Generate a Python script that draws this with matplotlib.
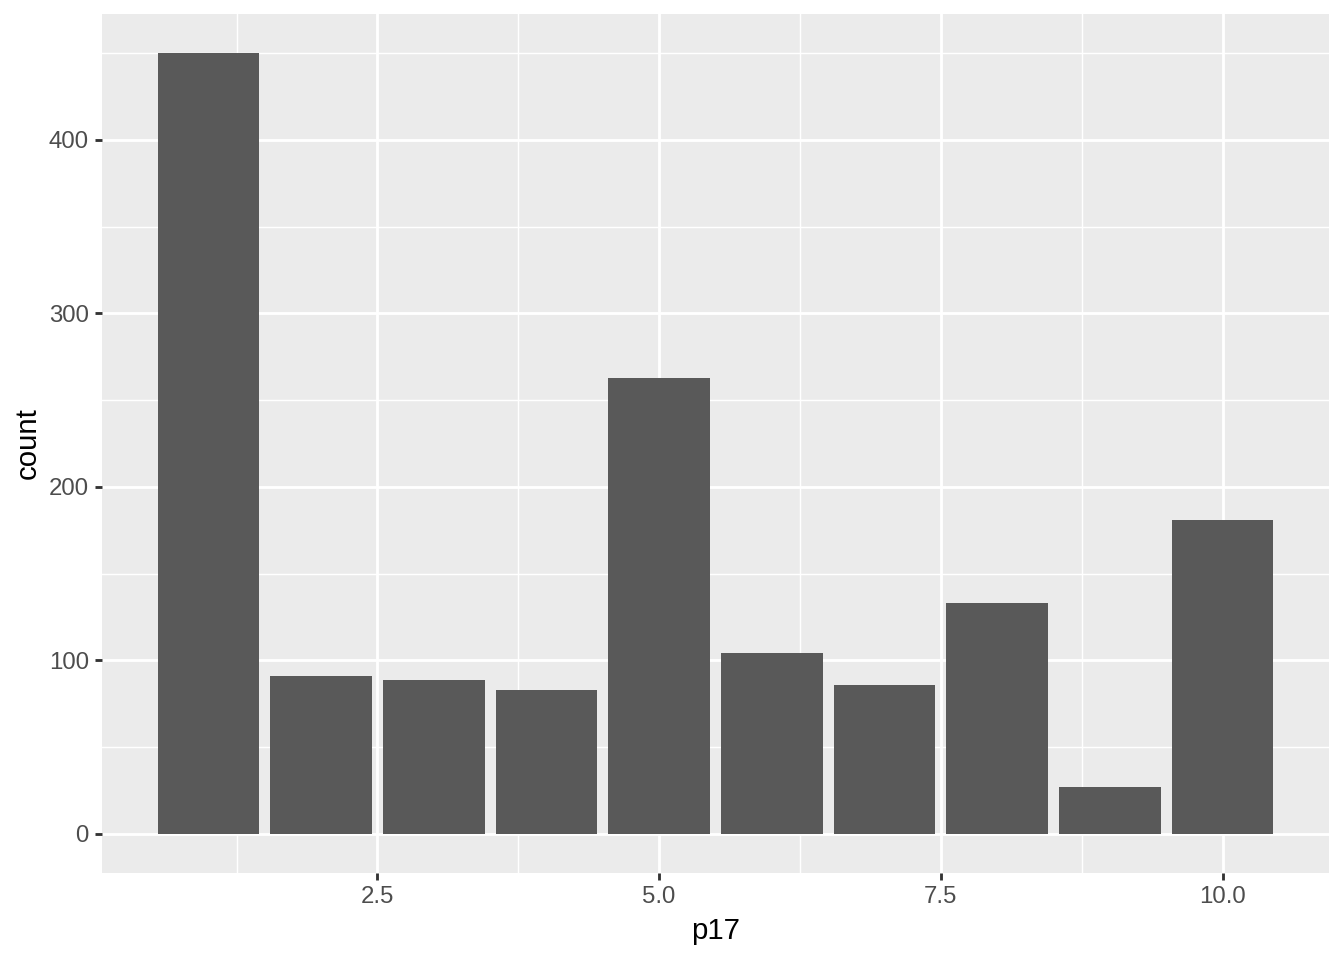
import matplotlib
matplotlib.use("Agg")
import matplotlib.pyplot as plt
from matplotlib.ticker import FixedLocator

categories = [1, 2, 3, 4, 5, 6, 7, 8, 9, 10]
counts = [450, 91, 89, 83, 263, 104, 86, 133, 27, 181]
x_ticks = [2.5, 5.0, 7.5, 10.0]
x_tick_labels = ["2.5", "5.0", "7.5", "10.0"]
y_ticks = [0, 100, 200, 300, 400]
x_minor = [1.25, 3.75, 6.25, 8.75]
y_minor = [50, 150, 250, 350, 450]

plt.rcParams['font.family'] = ['Liberation Sans', 'DejaVu Sans']

W, H = 1344, 960
fig = plt.figure(figsize=(7, 5), dpi=192)
ax = fig.add_axes([102 / W, (H - 873) / H, (1329 - 102) / W, (873 - 14) / H])
ax.set_facecolor('#EBEBEB')

ax.bar(categories, counts, width=0.9, color='#595959', zorder=3)

xmin, xmax = 0.55, 10.45
dx = (xmax - xmin) * 0.05
ax.set_xlim(xmin - dx, xmax + dx)
ymax = max(counts)
dy = ymax * 0.05
ax.set_ylim(-dy, ymax + dy)

ax.xaxis.set_major_locator(FixedLocator(x_ticks))
ax.set_xticklabels(x_tick_labels)
ax.yaxis.set_major_locator(FixedLocator(y_ticks))
ax.xaxis.set_minor_locator(FixedLocator(x_minor))
ax.yaxis.set_minor_locator(FixedLocator(y_minor))

ax.grid(which='major', color='white', linewidth=1.07, zorder=1)
ax.grid(which='minor', color='white', linewidth=0.53, zorder=1)
ax.set_axisbelow(True)

for s in ax.spines.values():
    s.set_visible(False)

ax.tick_params(which='major', length=2.75, width=1.07, color='#333333',
               labelcolor='#4D4D4D', labelsize=9, pad=2.2)
ax.tick_params(which='minor', length=0)

ax.set_xlabel('p17', fontsize=11, color='black', labelpad=3.2)
ax.set_ylabel('count', fontsize=11, color='black', labelpad=2.75)

fig.savefig('out.png', dpi=192, facecolor='white')
